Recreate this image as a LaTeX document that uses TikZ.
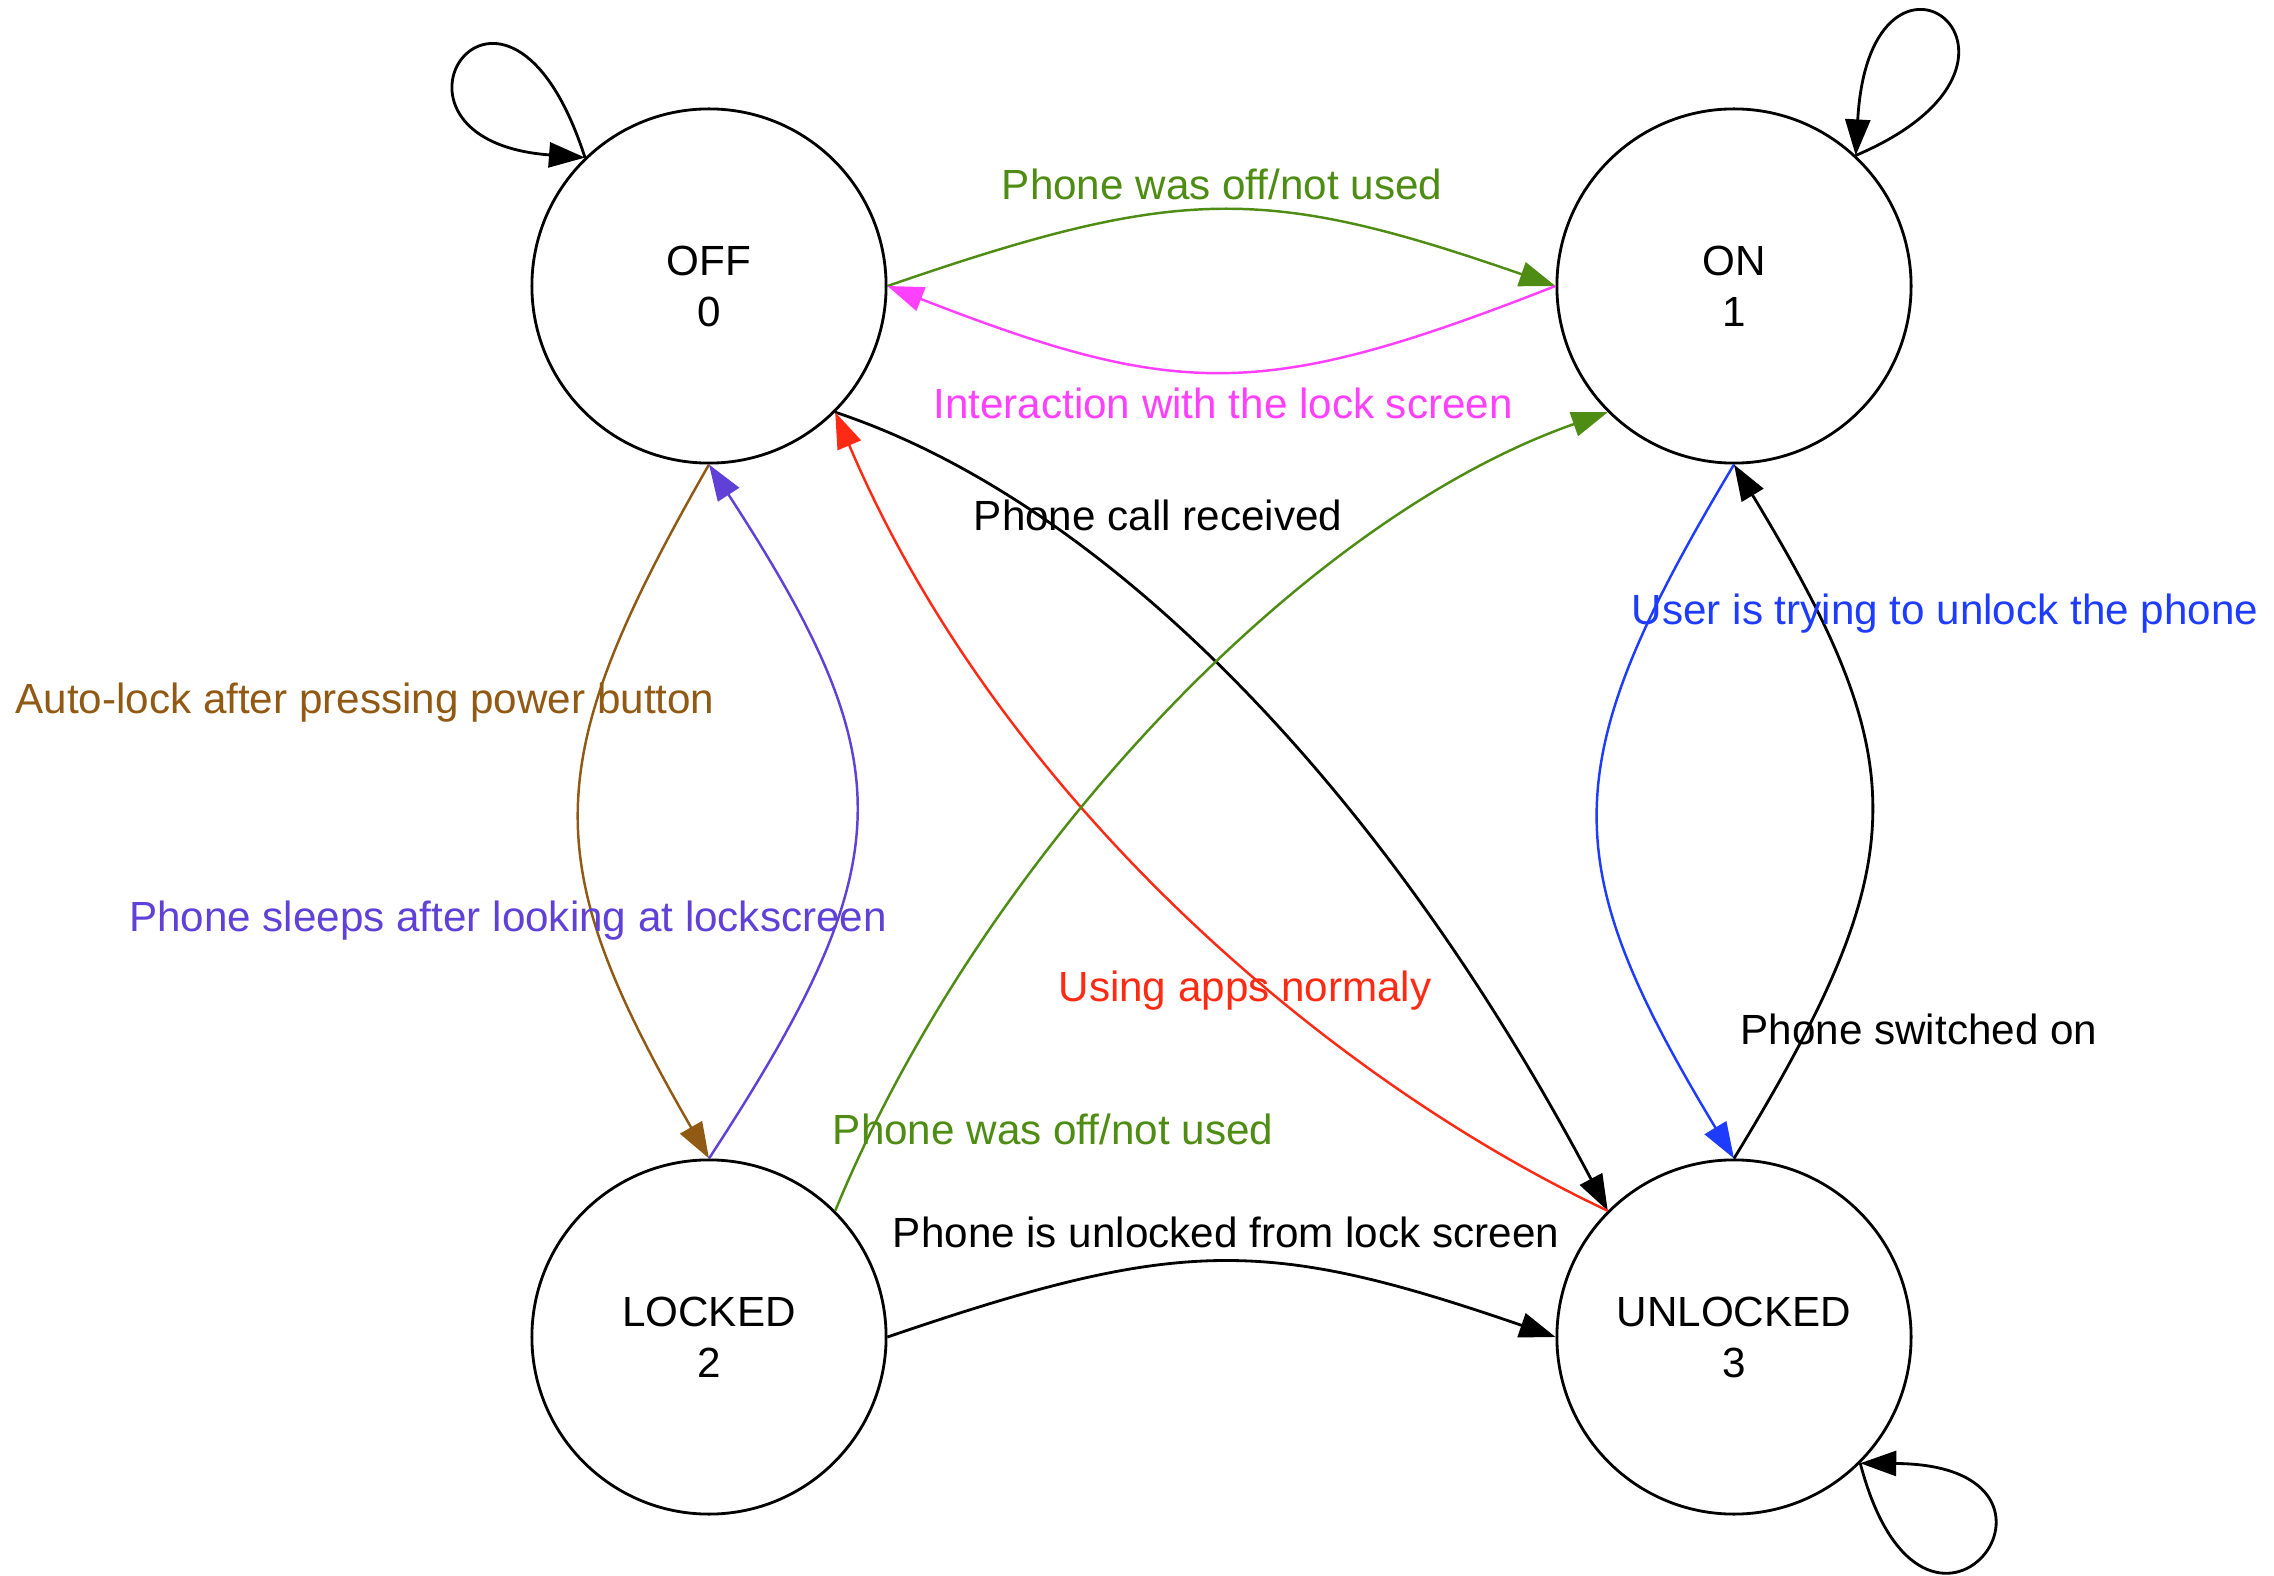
\documentclass[tikz,border=0pt]{standalone}
\usepackage{fontspec}
\setmainfont{Liberation Sans}
\usetikzlibrary{arrows.meta}
\definecolor{cgreen}{RGB}{78,140,20}
\definecolor{cmag}{RGB}{255,64,255}
\definecolor{cred}{RGB}{255,42,20}
\definecolor{cblue}{RGB}{30,60,255}
\definecolor{cpurple}{RGB}{95,65,215}
\definecolor{cbrown}{RGB}{145,90,20}
\begin{document}
\begin{tikzpicture}[x=0.01cm,y=-0.01cm,
  state/.style={circle,draw=black,line width=0.8pt,minimum size=3.54cm,inner sep=0pt,align=center,font=\fontsize{12}{14.5}\selectfont},
  edge/.style={line width=0.8pt,-{Triangle[length=0.36cm,width=0.25cm]}},
  cedge/.style={edge,line width=0.7pt},
  lbl/.style={anchor=base,font=\fontsize{12}{14.5}\selectfont,inner sep=0pt}]
\useasboundingbox[fill=white] (0,0) rectangle (2274,1576);

\node[state] (OFF) at (709,286) {OFF\\0};
\node[state] (ON) at (1734,286) {ON\\1};
\node[state] (LOCKED) at (709,1337) {LOCKED\\2};
\node[state] (UNLOCKED) at (1734,1337) {UNLOCKED\\3};

% self loops
\draw[edge] (OFF.134) .. controls (505,-90) and (350,140) .. (OFF.134);
\draw[edge] (ON.47) .. controls (2080,60) and (1870,-100) .. (ON.47);
\draw[edge] (UNLOCKED.-45) .. controls (1925,1710) and (2110,1465) .. (UNLOCKED.-45);

% OFF <-> ON
\draw[cedge,cgreen] (OFF.east) .. controls (1180,185) and (1265,185) .. (ON.west);
\draw[cedge,cmag] (ON.west) .. controls (1265,400) and (1180,400) .. (OFF.east);

% diagonals
\draw[edge] (OFF.-45) .. controls (1100,500) and (1380,780) .. (UNLOCKED.135);
\draw[cedge,cred] (UNLOCKED.135) .. controls (1330,1080) and (1000,800) .. (OFF.-45);
\draw[cedge,cgreen] (LOCKED.45) .. controls (980,860) and (1300,520) .. (ON.-135);

% LOCKED -> UNLOCKED
\draw[edge] (LOCKED.east) .. controls (1180,1237) and (1265,1237) .. (UNLOCKED.west);

% verticals
\draw[cedge,cbrown] (OFF.south) .. controls (537,765) and (537,860) .. (LOCKED.north);
\draw[cedge,cpurple] (LOCKED.north) .. controls (904,860) and (904,765) .. (OFF.south);
\draw[cedge,cblue] (ON.south) .. controls (1554,765) and (1554,860) .. (UNLOCKED.north);
\draw[edge] (UNLOCKED.north) .. controls (1916,860) and (1916,765) .. (ON.south);

% labels
\node[lbl,text=cgreen] (l1) at (1222,200) {Phone was off/not used};
\node[lbl,text=cmag] (l2) at (1223,419) {Interaction with the lock screen};
\node[lbl] (l3) at (1158,531) {Phone call received};
\node[lbl,text=cblue] (l4) at (1945,624) {User is trying to unlock the phone};
\node[lbl,text=cbrown] (l5) at (365,713) {Auto-lock after pressing power button};
\node[lbl,text=cpurple] (l6) at (508,931) {Phone sleeps after looking at lockscreen};
\node[lbl,text=cred] (l7) at (1245,1001) {Using apps normaly};
\node[lbl] (l8) at (1919,1044) {Phone switched on};
\node[lbl,text=cgreen] (l9) at (1053,1144) {Phone was off/not used};
\node[lbl] (l10) at (1226,1247) {Phone is unlocked from lock screen};
\end{tikzpicture}
\end{document}
